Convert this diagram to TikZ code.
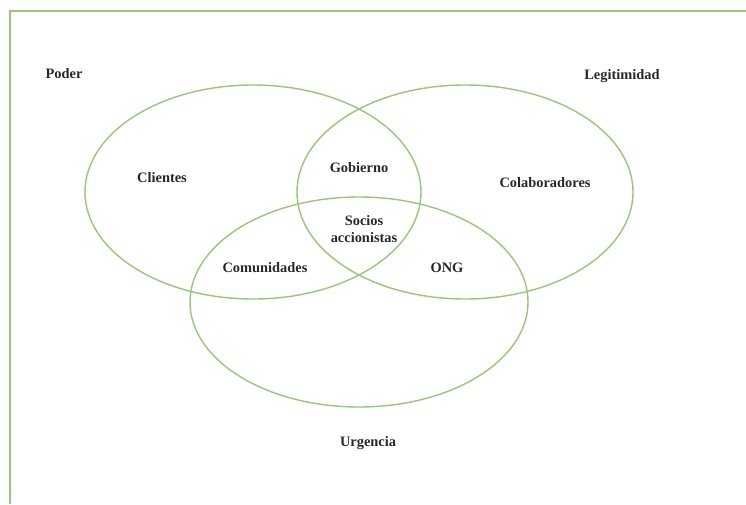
\documentclass[tikz,border=0pt]{standalone}
\usepackage{fontspec}
\setmainfont{Liberation Serif}
\usepackage{tikz}

\definecolor{venngreen}{RGB}{150,200,118}
\definecolor{labelgray}{RGB}{40,40,40}

\begin{document}
\begin{tikzpicture}[x=0.02cm,y=-0.02cm,
  ring/.style={draw=venngreen,line width=0.8pt},
  lbl/.style={font=\fontsize{8.2}{9.6}\selectfont\bfseries,text=labelgray,align=center,inner sep=0pt}]
\useasboundingbox (0,0) rectangle (746,504);
% Frame
\draw[draw=venngreen,line width=1.2pt] (10,504) -- (10,11) -- (746,11);
% Circles (Poder, Legitimidad, Urgencia)
\draw[ring] (253,192) ellipse (168 and 107);
\draw[ring] (465,192) ellipse (168 and 107);
\draw[ring] (359,302) ellipse (169 and 105);
% Set names
\node[lbl] (poder) at (64,74) {Poder};
\node[lbl] (legit) at (622,76) {Legitimidad};
\node[lbl] (urg) at (368,443) {Urgencia};
% Stakeholders
\node[lbl] (clientes) at (162,178) {Clientes};
\node[lbl] (gobierno) at (359,168) {Gobierno};
\node[lbl] (colab) at (545,183) {Colaboradores};
\node[lbl] (socios) at (364,229) {Socios\\accionistas};
\node[lbl] (comun) at (265,268) {Comunidades};
\node[lbl] (ong) at (447,268) {ONG};
\end{tikzpicture}
\end{document}
